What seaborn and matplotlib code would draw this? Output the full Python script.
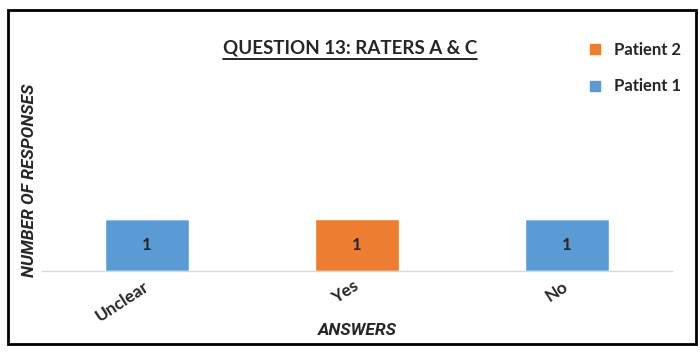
import matplotlib
matplotlib.use("Agg")
import matplotlib.pyplot as plt
import seaborn as sns
import pandas as pd
from matplotlib.patches import Rectangle
from matplotlib.lines import Line2D

answers = ["Unclear", "Yes", "No"]
patient1 = [1, 0, 1]
patient2 = [0, 1, 0]
series_names = ["Patient 1", "Patient 2"]
colors = ["#5B9BD5", "#ED7D31"]

sns.set_style("white")
plt.rcParams['font.family'] = ['Lato', 'DejaVu Sans']

df = pd.DataFrame({"answer": answers, "p1": patient1, "p2": patient2})

fig = plt.figure(figsize=(7, 3.54), dpi=100)
ax = fig.add_axes([0.06, 0.2345, 0.9, 0.511])

sns.barplot(x="answer", y="p1", data=df, color=colors[0], width=0.4,
            saturation=1, ax=ax)
sns.barplot(x="answer", y="p2", data=df, color=colors[1], width=0.4,
            saturation=1, ax=ax, bottom=df["p1"])

# data labels
for i, (a, b) in enumerate(zip(patient1, patient2)):
    if a:
        ax.text(i, a / 2, str(a), ha="center", va="center", fontsize=12, fontweight="bold")
    if b:
        ax.text(i, a + b / 2, str(b), ha="center", va="center", fontsize=12, fontweight="bold")

ax.set_xlim(-0.5, 2.5)
ax.set_ylim(0, 3.48)
ax.set_yticks([])
ax.tick_params(axis="x", length=0, pad=10)
for lbl in ax.get_xticklabels():
    lbl.set_rotation(33)
    lbl.set_rotation_mode("anchor")
    lbl.set_fontsize(12.5)
    lbl.set_fontweight("bold")
    lbl.set_ha("right")
    lbl.set_va("center")
for s in ["top", "right", "left"]:
    ax.spines[s].set_visible(False)
ax.spines["bottom"].set_color("#D9D9D9")
ax.spines["bottom"].set_linewidth(1)

lab_font = {"family": "Roboto", "size": 12.5, "weight": "bold", "style": "italic"}
ax.set_xlabel("ANSWERS", fontdict=lab_font)
ax.xaxis.set_label_coords(0.5, -0.29)
ax.set_ylabel("NUMBER OF RESPONSES", fontdict=lab_font)
ax.yaxis.set_label_coords(-0.008, 0.5)

# legend (reverse order like Excel)
handles = [Line2D([], [], marker="s", color=colors[1], linestyle="none", markersize=7),
           Line2D([], [], marker="s", color=colors[0], linestyle="none", markersize=7)]
fig.legend(handles, [series_names[1], series_names[0]], loc="upper left",
           bbox_to_anchor=(0.805, 0.925), frameon=False, handletextpad=0.1,
           labelspacing=1.25, prop={"weight": "bold", "size": 12})

title = fig.text(0.5, 0.863, "QUESTION 13: RATERS A & C", ha="center", va="center",
                 fontsize=13.5, fontweight="bold")

fig.canvas.draw()
bb = title.get_window_extent().transformed(fig.transFigure.inverted())
fig.add_artist(Line2D([bb.x0, bb.x1], [bb.y0 - 0.005, bb.y0 - 0.005],
                      transform=fig.transFigure, color="black", linewidth=1.2))

# outer border
fig.add_artist(Rectangle((0.012, 0.028), 0.982, 0.945, transform=fig.transFigure,
                         fill=False, edgecolor="black", linewidth=2))

fig.savefig("out.png", dpi=100)
